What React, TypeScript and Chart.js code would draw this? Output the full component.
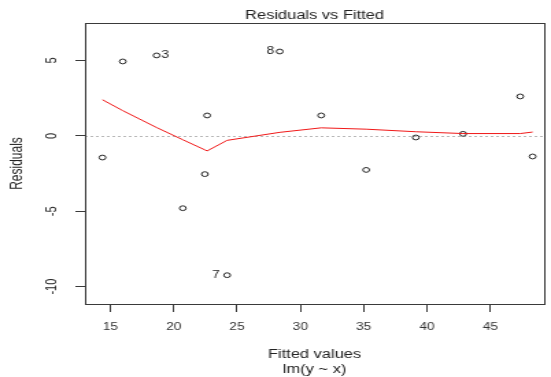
import React, { useEffect, useRef } from 'react';
import { Chart, registerables } from 'chart.js';

Chart.register(...registerables);

// ---- data ----
const chartTitle = 'Residuals vs Fitted';
const xAxisTitle = ['Fitted values', 'lm(y ~ x)'];
const yAxisTitle = 'Residuals';

const fittedValues = [14.38, 15.98, 18.65, 20.72, 22.46, 22.64, 24.22, 28.37, 31.64, 35.19, 39.11, 42.84, 47.35, 48.33];
const residuals = [-1.44, 4.93, 5.33, -4.8, -2.54, 1.35, -9.24, 5.59, 1.35, -2.26, -0.11, 0.13, 2.61, -1.37];
const smoothFit = [2.39, 1.67, 0.55, -0.26, -0.93, -1.0, -0.3, 0.23, 0.53, 0.44, 0.27, 0.15, 0.15, 0.25];

const labelledPoints = [3, 7, 8];
const labelSides = ['right', 'left', 'left'];

const xTicks = [15, 20, 25, 30, 35, 40, 45];
const yTicks = [-10, -5, 0, 5];
const xRange = [13.0, 49.24];
const yRange = [-11.15, 7.48];

// ---- layout (logical canvas is stretched horizontally like the reference) ----
const PAGE_W = 551;
const PAGE_H = 377;
const LOGICAL_W = 402;
const FONT = 'Arial, "Liberation Sans", Helvetica, sans-serif';

const decorPlugin = {
  id: 'rDecor',
  beforeDatasetsDraw(chart: any) {
    const { ctx, chartArea, scales } = chart;
    const yz = Math.round(scales.y.getPixelForValue(0)) + 0.5;
    ctx.save();
    ctx.strokeStyle = '#b8b8b8';
    ctx.lineWidth = 1;
    ctx.setLineDash([2, 2]);
    ctx.beginPath();
    ctx.moveTo(chartArea.left, yz);
    ctx.lineTo(chartArea.right, yz);
    ctx.stroke();
    ctx.restore();
  },
  afterDraw(chart: any) {
    const { ctx, chartArea, scales } = chart;
    const { left, right, top, bottom } = chartArea;
    ctx.save();
    // box
    ctx.strokeStyle = '#3a3a3a';
    ctx.lineWidth = 1;
    ctx.strokeRect(Math.round(left) + 0.5, Math.round(top) + 0.5, Math.round(right - left), Math.round(bottom - top));

    // title
    ctx.fillStyle = '#222';
    ctx.font = `12px ${FONT}`;
    ctx.textAlign = 'center';
    ctx.textBaseline = 'middle';
    ctx.fillText(chartTitle, (left + right) / 2, 15.5);

    // y tick labels, rotated as in R
    ctx.font = `11px ${FONT}`;
    const labelX = scales.y.right - 24;
    for (const t of scales.y.ticks) {
      const py = scales.y.getPixelForValue(t.value);
      ctx.save();
      ctx.translate(labelX, py);
      ctx.rotate(-Math.PI / 2);
      ctx.textAlign = 'center';
      ctx.textBaseline = 'middle';
      ctx.fillText(String(t.value), 0, 0);
      ctx.restore();
    }

    // point id labels
    ctx.font = `10px ${FONT}`;
    ctx.textBaseline = 'middle';
    labelledPoints.forEach((id, k) => {
      const i = id - 1;
      const px = scales.x.getPixelForValue(fittedValues[i]);
      const py = scales.y.getPixelForValue(residuals[i]);
      if (labelSides[k] === 'right') {
        ctx.textAlign = 'left';
        ctx.fillText(String(id), px + 3.5, py);
      } else {
        ctx.textAlign = 'right';
        ctx.fillText(String(id), px - (id === 7 ? 5.5 : 4), py);
      }
    });
    ctx.restore();
  },
};

export default function App() {
  const canvasRef = useRef<HTMLCanvasElement | null>(null);

  useEffect(() => {
    const canvas = canvasRef.current;
    if (!canvas) return;
    const points = fittedValues.map((x, i) => ({ x, y: residuals[i] }));
    const smooth = fittedValues.map((x, i) => ({ x, y: smoothFit[i] }));

    const chart = new Chart(canvas, {
      type: 'scatter',
      data: {
        datasets: [
          {
            label: 'smooth',
            data: smooth,
            showLine: true,
            borderColor: '#f01818',
            borderWidth: 1,
            pointRadius: 0,
            fill: false,
            tension: 0,
          },
          {
            label: 'residuals',
            data: points,
            pointStyle: 'circle',
            pointRadius: 2.4,
            pointBorderWidth: 1,
            borderColor: '#222',
            backgroundColor: 'rgba(0,0,0,0)',
            pointBackgroundColor: 'rgba(0,0,0,0)',
            pointBorderColor: '#222',
          },
        ],
      },
      options: {
        responsive: false,
        animation: false,
        devicePixelRatio: 1,
        layout: { padding: { top: 23, left: 0, right: 0, bottom: 0 } },
        plugins: {
          legend: { display: false },
          tooltip: { enabled: false },
          title: { display: false },
        },
        scales: {
          x: {
            type: 'linear',
            position: 'bottom',
            min: xRange[0],
            max: xRange[1],
            afterBuildTicks: (scale: any) => {
              scale.ticks = xTicks.map((v) => ({ value: v }));
            },
            afterFit: (scale: any) => {
              scale.height = 73;
            },
            grid: { drawOnChartArea: false, drawTicks: true, tickLength: 8, color: '#3a3a3a' },
            border: { display: false },
            ticks: {
              color: '#333',
              font: { family: FONT, size: 10 },
              padding: 9,
              maxRotation: 0,
              autoSkip: false,
            },
            title: {
              display: true,
              text: xAxisTitle,
              color: '#222',
              font: { family: FONT, size: 12, lineHeight: 1.25 },
              padding: { top: 0, bottom: 0 },
            },
          },
          y: {
            type: 'linear',
            position: 'left',
            min: yRange[0],
            max: yRange[1],
            afterBuildTicks: (scale: any) => {
              scale.ticks = yTicks.map((v) => ({ value: v }));
            },
            afterFit: (scale: any) => {
              scale.width = 62;
            },
            grid: { drawOnChartArea: false, drawTicks: true, tickLength: 7, color: '#3a3a3a' },
            border: { display: false },
            ticks: { display: false },
            title: {
              display: true,
              text: yAxisTitle,
              color: '#222',
              font: { family: FONT, size: 12, lineHeight: 1.2 },
              padding: { top: 5, bottom: 0 },
            },
          },
        },
      },
      plugins: [decorPlugin],
    });
    return () => chart.destroy();
  }, []);

  return (
    <div style={{ position: 'fixed', left: 0, top: 0, width: PAGE_W, height: PAGE_H, background: '#fff' }}>
      <canvas
        ref={canvasRef}
        width={LOGICAL_W}
        height={PAGE_H}
        style={{ width: `${PAGE_W}px`, height: `${PAGE_H}px`, display: 'block' }}
      />
    </div>
  );
}
